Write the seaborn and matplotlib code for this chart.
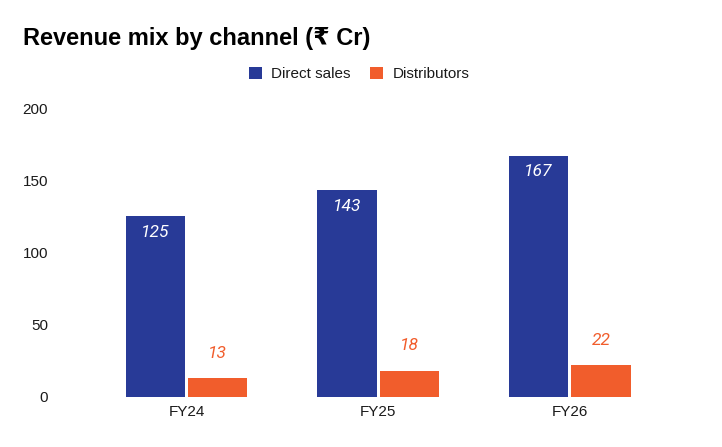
import pandas as pd
import matplotlib
matplotlib.use("Agg")
from matplotlib import pyplot as plt
import seaborn as sns

years = ["FY24", "FY25", "FY26"]
direct_sales = [125, 143, 167]
distributors = [13, 18, 22]
channels = ["Direct sales", "Distributors"]
colors = ["#283A97", "#F15D2C"]

data = pd.DataFrame({
    "year": years * 2,
    "channel": [channels[0]] * 3 + [channels[1]] * 3,
    "value": direct_sales + distributors,
})

sns.set_style("white")
plt.rcParams['font.family'] = ['Liberation Sans', 'DejaVu Sans']

fig = plt.figure(figsize=(7.22, 4.47), dpi=100)
ax = fig.add_axes([60 / 722, 50 / 447, 640 / 722, 289 / 447])

sns.barplot(data=data, x="year", y="value", hue="channel",
            palette=colors, width=0.652, gap=0.05, ax=ax,
            legend=False, saturation=1, linewidth=0)

ax.set_xlim(-0.66, 2.68)
ax.set_ylim(0, 200)
ax.set_yticks([0, 50, 100, 150, 200])
ax.set_xlabel("")
ax.set_ylabel("")
sns.despine(ax=ax, left=True, bottom=True)
ax.tick_params(axis="both", length=0, labelsize=11, colors="#1a1a1a")
ax.tick_params(axis="y", pad=8.6)
ax.tick_params(axis="x", pad=6)

# value labels: white inside for direct sales, orange above for distributors
for container, col in zip(ax.containers, channels):
    for bar in container:
        h = bar.get_height()
        cx = bar.get_x() + bar.get_width() / 2
        if col == "Direct sales":
            ax.annotate(f"{h:.0f}", (cx, h), xytext=(0, -16),
                        textcoords="offset pixels", ha="center", va="center",
                        color="white", fontsize=12.5, style="italic",
                        family=["Roboto", "DejaVu Sans"])
        else:
            ax.annotate(f"{h:.0f}", (cx, h), xytext=(0, 25),
                        textcoords="offset pixels", ha="center", va="center",
                        color=colors[1], fontsize=12.5, style="italic",
                        family=["Roboto", "DejaVu Sans"])

# legend
handles = [plt.Rectangle((0, 0), 1, 1, fc=c, ec="none") for c in colors]
le = fig.legend(handles, channels, loc="center", ncol=2,
                bbox_to_anchor=(359 / 722, 1 - 74 / 447), frameon=False,
                prop={"size": 11}, handlelength=0.85, handleheight=0.85,
                handletextpad=0.6, columnspacing=1.3)
for t in le.get_texts():
    t.set_color("#1a1a1a")

fig.text(23 / 722, 1 - 45 / 447, "Revenue mix by channel (₹ Cr)",
         fontsize=17, fontweight="bold", ha="left", va="baseline",
         color="black")

plt.savefig("out.png", dpi=100)
